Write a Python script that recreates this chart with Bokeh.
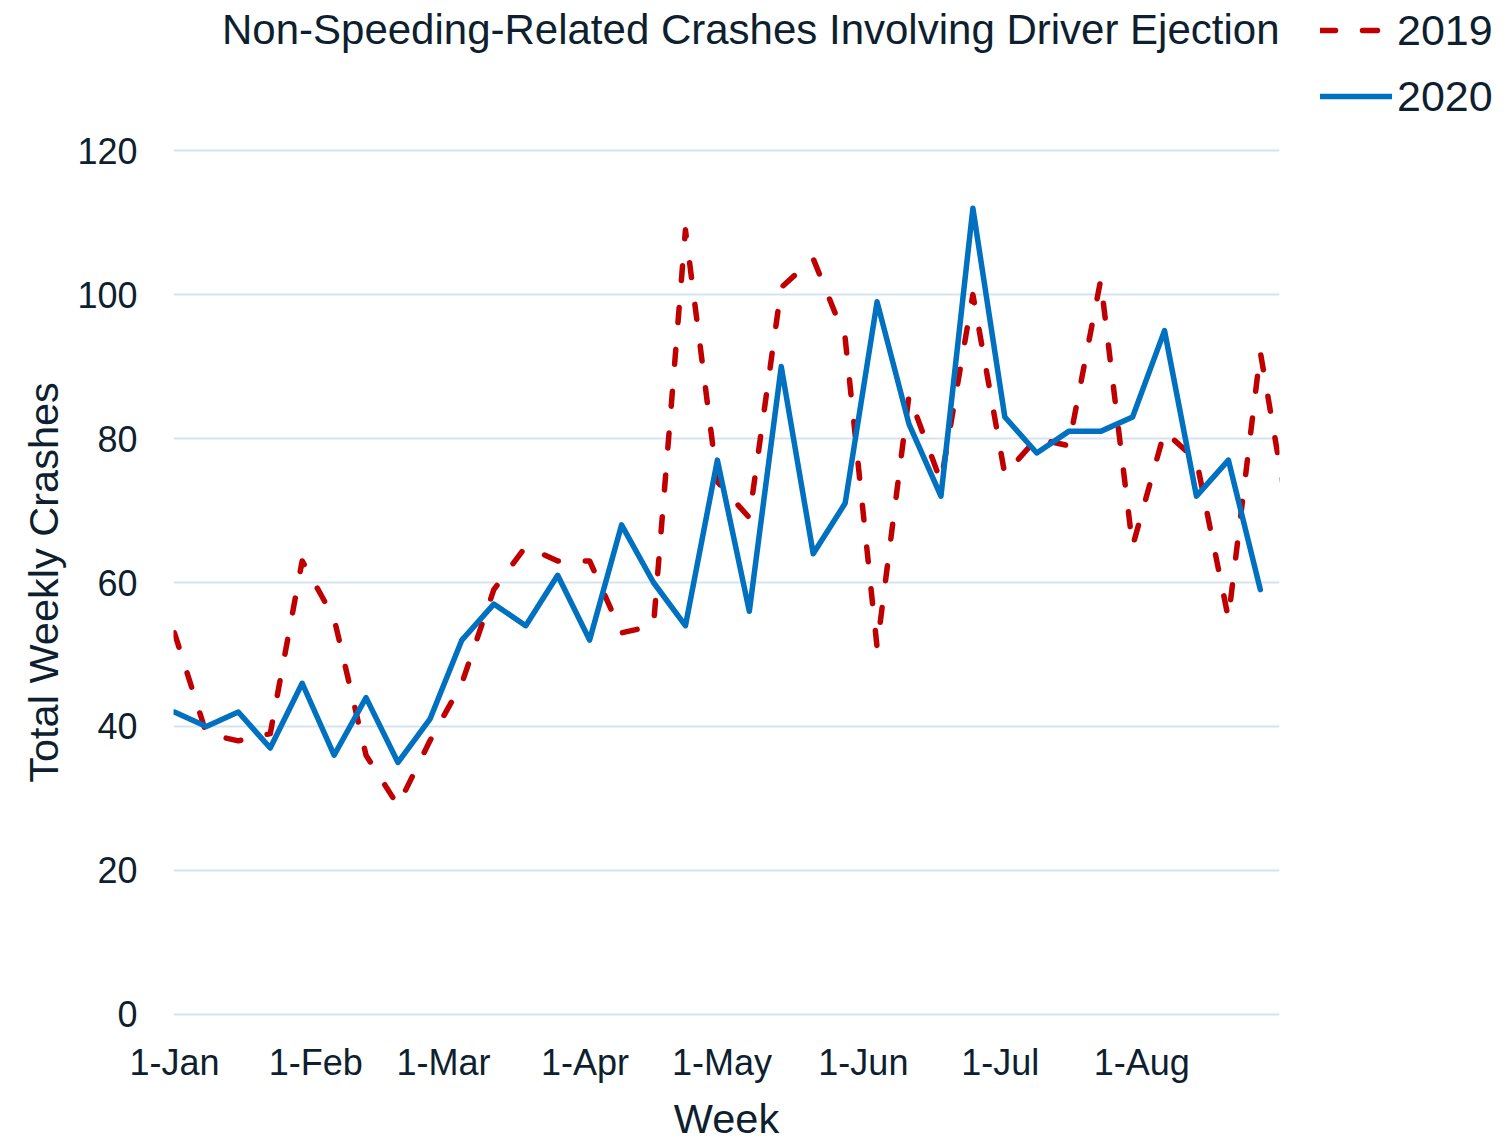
from bokeh.plotting import figure
from bokeh.models import Range1d, FixedTicker, Legend, LegendItem, Title
from bokeh.embed import file_html
from bokeh.resources import INLINE

# ---- data ----
week_day = [0, 7, 14, 21, 28, 35, 42, 49, 56, 63, 70, 77, 84, 91, 98, 105, 112, 119,
            126, 133, 140, 147, 154, 161, 168, 175, 182, 189, 196, 203, 210, 217, 224,
            231, 238, 245]
crashes_2019 = [53, 39, 38, 39, 63, 55, 36, 29, 38, 46, 59, 65, 63, 63, 53, 54, 109, 74,
                69, 101, 105, 94, 51, 86, 74, 100, 75, 80, 79, 102, 65, 81, 77, 55, 92, 66]
crashes_2020 = [42, 40, 42, 37, 46, 36, 44, 35, 41, 52, 57, 54, 61, 52, 68, 60, 54, 77,
                56, 90, 64, 71, 99, 82, 72, 112, 83, 78, 81, 81, 83, 95, 72, 77, 59]
tick_days = [0, 31, 59, 90, 120, 151, 181, 212]
tick_labels = ["1-Jan", "1-Feb", "1-Mar", "1-Apr", "1-May", "1-Jun", "1-Jul", "1-Aug"]
y_ticks = [0, 20, 40, 60, 80, 100, 120]
title_text = "Non-Speeding-Related Crashes Involving Driver Ejection"
x_label = "Week"
y_label = "Total Weekly Crashes"
series_names = ["2019", "2020"]

FONT = "Liberation Sans"
TEXT = "#0e1f2f"
RED = "#c00000"
BLUE = "#0070c0"
GRID = "#d5e3f1"

p = figure(frame_width=1106, frame_height=878,
           x_range=Range1d(-0.2, 242.2), y_range=Range1d(-1, 121),
           output_backend="svg", toolbar_location=None,
           min_border_left=173, min_border_right=225,
           min_border_top=143, min_border_bottom=119,
           background_fill_color="white", border_fill_color="white",
           outline_line_color=None)

r19 = p.line(week_day[:len(crashes_2019)], crashes_2019, line_color=RED, line_width=5.5,
             line_dash="15 27", line_cap="round", line_join="round")
r20 = p.line(week_day[:len(crashes_2020)], crashes_2020, line_color=BLUE, line_width=5.5,
             line_cap="round", line_join="round")

# real title (outermost), blank spacer title between it and the frame
p.title = Title(text=title_text, align="right", text_font=FONT, text_font_size="42px",
                text_font_style="normal", text_color=TEXT, vertical_align="middle",
                standoff=0)
spacer = Title(text=" ", text_font_size="2px", standoff=86, text_color="white")
p.add_layout(spacer, "above")

# axes
xa = p.xaxis[0]
xa.ticker = FixedTicker(ticks=tick_days)
xa.major_label_overrides = {d: l for d, l in zip(tick_days, tick_labels)}
ya = p.yaxis[0]
ya.ticker = FixedTicker(ticks=y_ticks)
for ax in (xa, ya):
    ax.axis_line_color = None
    ax.major_tick_line_color = None
    ax.minor_tick_line_color = None
    ax.major_tick_out = 0
    ax.major_tick_in = 0
    ax.major_label_text_font = FONT
    ax.major_label_text_font_size = "36px"
    ax.major_label_text_color = TEXT
    ax.axis_label_text_font = FONT
    ax.axis_label_text_font_size = "41.5px"
    ax.axis_label_text_font_style = "normal"
    ax.axis_label_text_color = TEXT
xa.axis_label = x_label
ya.axis_label = y_label
xa.major_label_standoff = 20
xa.axis_label_standoff = 9
ya.major_label_standoff = 36
ya.axis_label_standoff = 7

p.xgrid.grid_line_color = None
p.ygrid.grid_line_color = GRID
p.ygrid.grid_line_width = 2

legend = Legend(items=[LegendItem(label=series_names[0], renderers=[r19]),
                       LegendItem(label=series_names[1], renderers=[r20])],
                location=(41, 900), orientation="vertical",
                glyph_width=72, glyph_height=50, label_height=50,
                label_standoff=5, spacing=16, padding=0, margin=0,
                label_text_font=FONT, label_text_font_size="43px",
                label_text_color=TEXT, border_line_color=None,
                background_fill_alpha=0)
p.add_layout(legend, "right")

open("out.html", "w").write(file_html(p, INLINE))
